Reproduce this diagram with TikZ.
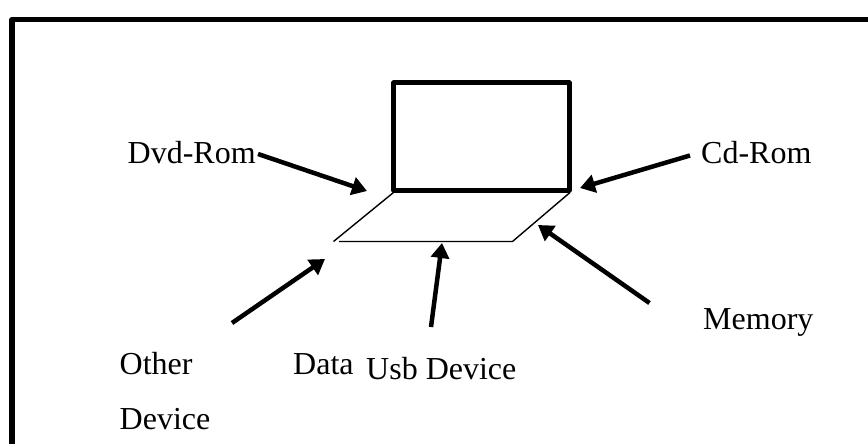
\documentclass[tikz,border=0pt]{standalone}
\usepackage{fontspec}
\setmainfont{Liberation Serif}
\usetikzlibrary{arrows.meta}
\begin{document}
\begin{tikzpicture}[x=1pt, y=-1pt, >={Triangle[length=15pt, width=18pt]}]
        \tikzstyle{lbl}=[anchor=base west, inner sep=0pt, font=\fontsize{32}{32}\selectfont]
        \tikzstyle{frame}=[line width=5.6pt, line join=round]
        \tikzstyle{screen}=[draw, line width=4.8pt, line join=round, minimum width=175.5pt, minimum height=107.5pt, inner sep=0pt]
        \tikzstyle{thin}=[line width=1.4pt]
        \tikzstyle{pointer}=[->, line width=4.5pt]
        \useasboundingbox (0, 0) rectangle (868, 444);

        % Frame
        \draw[frame] (12.2, 444) |- (868, 19.5);

        % Nodes
        \node[lbl] (dvd) at (127.5, 163) {Dvd-Rom};
        \node[lbl] (cd) at (701, 163) {Cd-Rom};
        \node[lbl] (memory) at (703, 329) {Memory};
        \node[lbl] (other) at (119.5, 374) {Other};
        \node[lbl] (device) at (119.5, 429) {Device};
        \node[lbl] (data) at (293, 374) {Data};
        \node[lbl] (usb) at (366, 379) {Usb Device};

        \node[screen] (lcd) at (481.5, 136.5) {};

        % Keyboard
        \coordinate (kbl) at (339, 241.5);
        \coordinate (kbr) at (512.5, 241.5);
        \draw[thin] (393.5, 192.5) -- (333.5, 241.5);
        \draw[thin] (kbl) -- (kbr) -- (570, 192.5);

        % Edges
        \coordinate (dvdfrom) at (258, 154);
        \coordinate (dvdto) at (367, 191);
        \coordinate (cdfrom) at (690, 155.5);
        \coordinate (cdto) at (580, 188);
        \coordinate (memfrom) at (649.5, 303);
        \coordinate (memto) at (538, 225);
        \coordinate (otherfrom) at (232, 323);
        \coordinate (otherto) at (325, 259);
        \coordinate (usbfrom) at (431, 327);
        \coordinate (usbto) at (442, 243);

        \draw[pointer] (dvdfrom) to (dvdto);
        \draw[pointer] (cdfrom) to (cdto);
        \draw[pointer] (memfrom) to (memto);
        \draw[pointer] (otherfrom) to (otherto);
        \draw[pointer] (usbfrom) to (usbto);

    \end{tikzpicture}
\end{document}
